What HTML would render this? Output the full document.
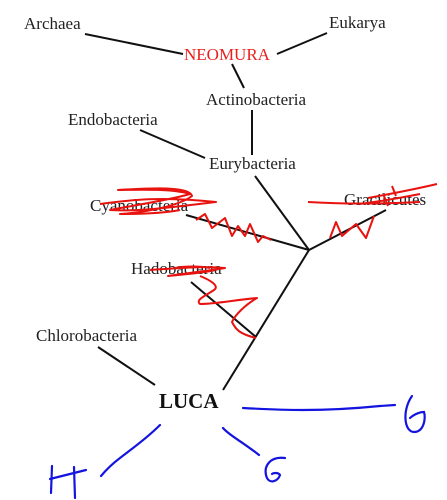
<!DOCTYPE html>
<html><head><meta charset="utf-8"><style>
html,body{margin:0;padding:0;background:#fff;width:447px;height:500px;overflow:hidden}
svg text{font-family:"Liberation Serif",serif;font-size:17px;fill:#222}
</style></head><body>
<svg width="447" height="500" viewBox="0 0 447 500">
<g stroke="#111" stroke-width="2" fill="none">
<line x1="85" y1="34" x2="183" y2="54"/>
<line x1="327" y1="33" x2="277" y2="54"/>
<line x1="232" y1="64" x2="244" y2="88"/>
<line x1="252" y1="110" x2="252" y2="155"/>
<line x1="140" y1="130" x2="205" y2="158"/>
<line x1="255" y1="176" x2="309" y2="250"/>
<line x1="186" y1="215" x2="309" y2="250"/>
<line x1="386" y1="210" x2="309" y2="250"/>
<line x1="309" y1="250" x2="223" y2="390"/>
<line x1="191" y1="282" x2="256" y2="337"/>
<line x1="98" y1="347" x2="155" y2="385"/>
</g>
<text x="24" y="29">Archaea</text>
<text x="329" y="28">Eukarya</text>
<text x="184" y="60" style="fill:#e8201e">NEOMURA</text>
<text x="206" y="105">Actinobacteria</text>
<text x="68" y="125">Endobacteria</text>
<text x="209" y="169">Eurybacteria</text>
<text x="90" y="211">Cyanobacteria</text>
<text x="344" y="205">Gracilicutes</text>
<text x="131" y="274">Hadobacteria</text>
<text x="36" y="341">Chlorobacteria</text>
<text x="159" y="408" style="font-size:21px;font-weight:bold;fill:#111">LUCA</text>
<g stroke="#e8120e" stroke-width="2" fill="none" stroke-linejoin="round">
<path d="M100,204 C130,200 160,196 216,202 C180,206 140,212 110,210 C130,206 170,200 190,194 C170,188 130,190 118,190 C150,188 190,186 192,196 C180,205 150,212 120,214 C150,214 170,212 180,210"/>
<path d="M196,220 L205,214 L212,228 L225,218 L232,236 L238,226 L245,236 L250,224 L258,242 L263,236 L271,240"/>
<path d="M308,202 C340,204 380,204 420,202 M368,198 C390,194 420,188 437,184 M360,204 C390,200 410,196 420,194 M396,196 L392,186 M388,206 L384,196"/>
<path d="M330,238 L336,222 L342,236 L356,224 L366,238 L374,216"/>
<path d="M150,270 C180,268 200,266 225,268 C200,272 180,274 168,276 C190,274 210,272 215,270 M175,268 C185,266 200,266 210,268"/>
<path d="M200,276 C210,280 220,286 214,290 C205,296 195,300 200,304 C215,304 235,300 257,298 C245,305 235,315 232,322 C236,330 240,334 256,338"/>
</g>
<g stroke="#1414e0" stroke-width="2.2" fill="none" stroke-linecap="round">
<path d="M243,408 C280,410 320,412 380,406 L395,405"/>
<path d="M412,396 C402,410 404,432 414,432 C424,432 426,418 424,412 C418,412 412,416 410,418"/>
<path d="M160,425 C145,440 130,450 120,458 C112,464 106,470 101,476"/>
<path d="M52,466 L51,493 M50,479 L86,470 M74,467 L75,498"/>
<path d="M223,428 C230,436 240,440 259,455"/>
<path d="M285,458 C270,456 264,466 266,475 C268,485 278,482 280,475 C278,472 273,473 272,474"/>
</g>
</svg>
</body></html>
